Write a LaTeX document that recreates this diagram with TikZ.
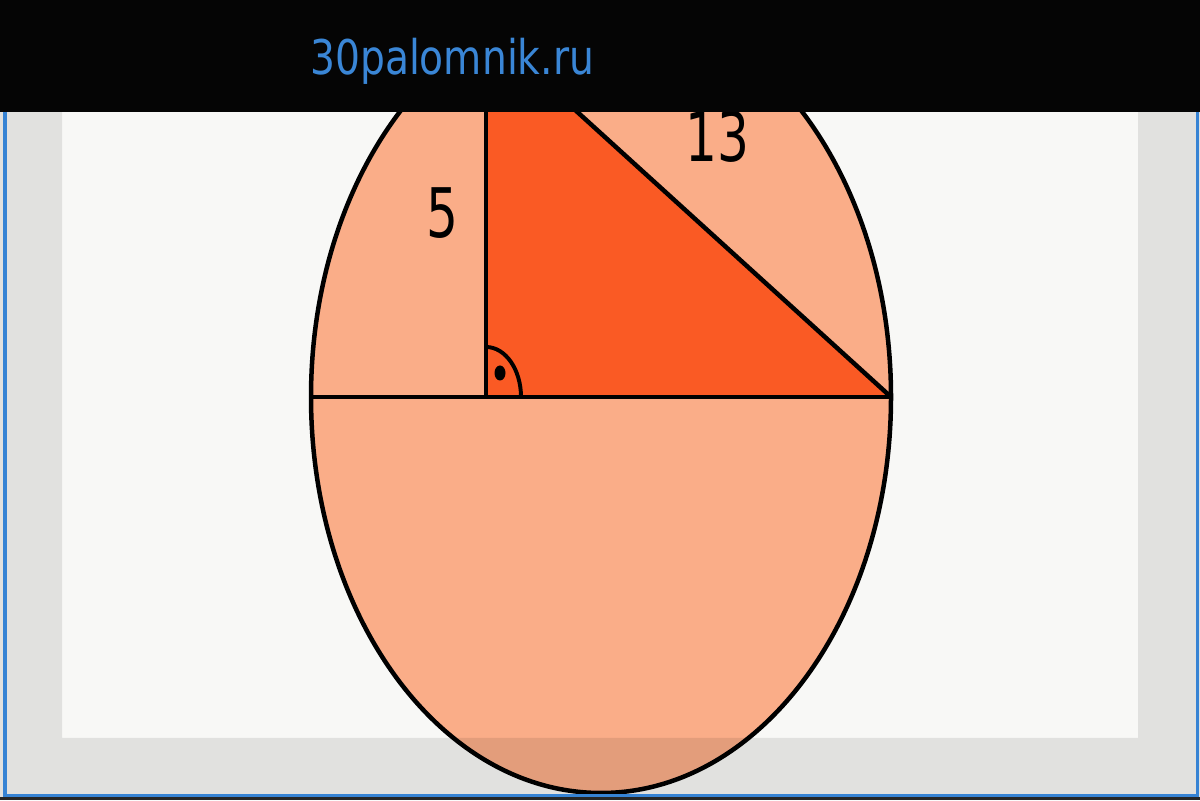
\documentclass[tikz,border=0pt]{standalone}
\usepackage{fontspec}
\setmainfont{DejaVu Sans}
\usepackage{tikz}
\definecolor{peach}{HTML}{FAAD88}
\definecolor{flame}{HTML}{FA5A24}
\definecolor{paper}{HTML}{F8F8F6}
\definecolor{sitelink}{HTML}{3A86D6}
\definecolor{frameblue}{HTML}{3683D4}

\begin{document}
\begin{tikzpicture}[x=0.025cm,y=0.025cm]
                \useasboundingbox (0,0) rectangle (1200,800);
                \fill[paper] (0,0) rectangle (1200,800);
                \coordinate (O) at (601,403);
                \coordinate (L) at (311,403);
                \coordinate (A) at (486,403);
                \coordinate (B) at (891,403);
                \coordinate (C) at (486,771);
                \coordinate (R) at (486,453);
                \fill[peach] (O) ellipse (290 and 396);
                \fill[flame] (A) -- (B) -- (C) -- cycle;
                \draw[line width=3.2pt] (L) -- (B);
                \draw[line width=3.2pt] (A) -- (C);
                \draw[line width=3.2pt] (B) -- (C);
                \draw[line width=2.8pt] (R) arc[start angle=90,end angle=0,x radius=35,y radius=50];
                \fill (500,427) ellipse (5.5 and 7.5);
                \draw[line width=3.2pt] (O) ellipse (290 and 396);
                \node (leg) at (442,587) {\fontsize{34}{34}\selectfont\scalebox{1.05}[1.43]{5}};
                \node (hyp) at (717,663) {\fontsize{34}{34}\selectfont\scalebox{1.05}[1.43]{13}};
                \fill[black,opacity=0.09,even odd rule] (0,0) rectangle (1200,688) (62,62) rectangle (1138,688);
                \fill[frameblue] (3,3) rectangle (6.5,688);
                \fill[frameblue] (1195.5,3) rectangle (1199,688);
                \fill[frameblue] (3,3) rectangle (1199,5.5);
                \fill[black!85] (0,0) rectangle (1200,3);
                \fill[black!98] (0,688) rectangle (1200,800);
                \node[anchor=base west,inner sep=0pt,text=sitelink] (site) at (310,725) {\fontsize{34}{34}\selectfont\scalebox{0.82}[1]{30palomnik.ru}};
            \end{tikzpicture}
\end{document}
